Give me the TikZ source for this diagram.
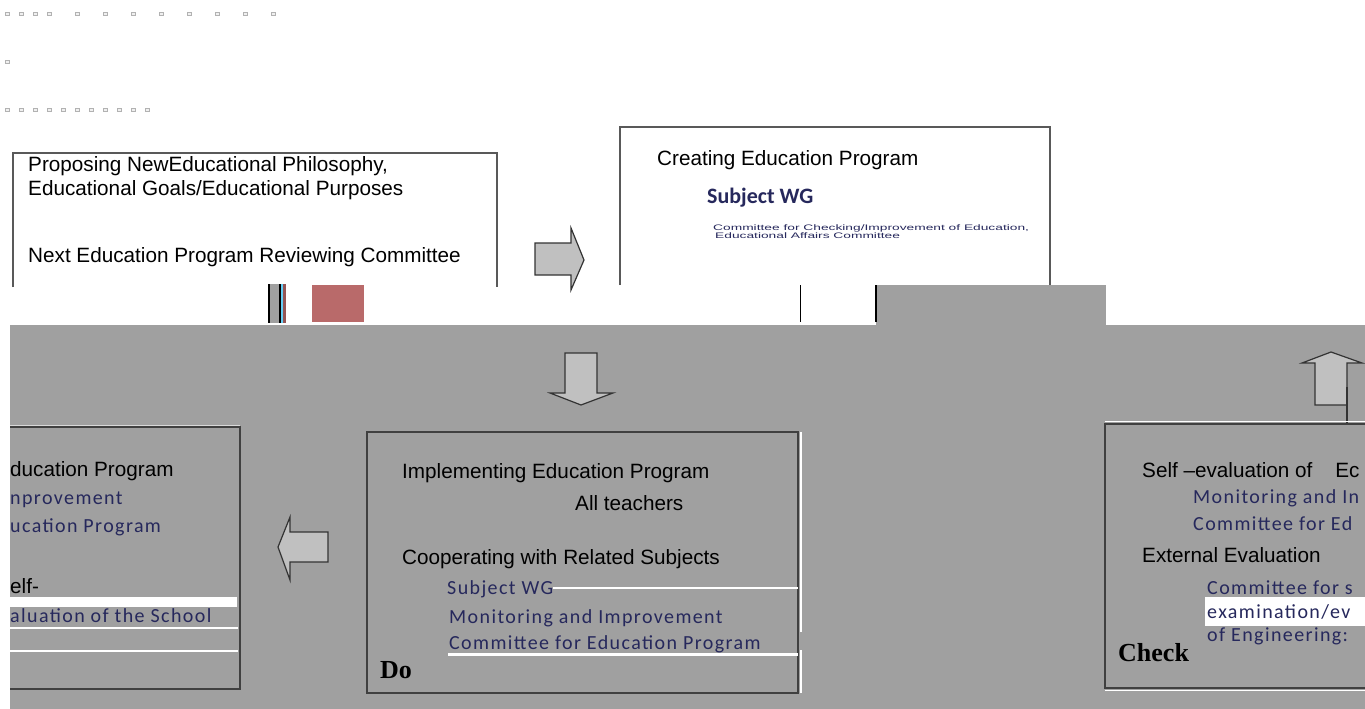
\documentclass[tikz,border=0pt]{standalone}
\usepackage{fontspec}
\setmainfont{Liberation Sans}
\newfontfamily\calfont[LetterSpace=7]{Carlito}
\newfontfamily\calbold{Carlito}
\newfontfamily\labfont{Liberation Serif}
\usepackage{graphicx}
\definecolor{bggray}{RGB}{160,160,160}
\definecolor{arrowgray}{RGB}{192,192,192}
\definecolor{wgtext}{RGB}{38,40,92}
\definecolor{salmon}{RGB}{185,106,106}
\tikzset{
  txt/.style={anchor=west,inner sep=0pt,font=\fontsize{20.7}{22}\selectfont},
  wgtxt/.style={anchor=west,inner sep=0pt,text=wgtext,font=\calfont\fontsize{20}{22}\selectfont},
  pdca/.style={anchor=west,inner sep=0pt,font=\labfont\bfseries\fontsize{26}{28}\selectfont},
  topbox/.style={draw=black!65,line width=1.5pt,fill=white},
  boxline/.style={draw=black!75,line width=1.2pt},
  blockarrow/.style={draw=black!80,line width=1.2pt,fill=arrowgray},
  tinysq/.style={draw=black!30,fill=black!6,line width=0.4pt}
}
\begin{document}
\begin{tikzpicture}[x=1pt,y=-1pt]
\useasboundingbox (0,0) rectangle (1365,709);
% tiny squares
\foreach \x in {5,19,33,47,75,103,131,159,187,215,243,271}
  \draw[tinysq] (\x,12) rectangle ++(4,3);
\draw[tinysq] (5,60) rectangle ++(4,3);
\foreach \x in {5,19,...,145}
  \draw[tinysq] (\x,108) rectangle ++(4,3);
%
% top boxes
\draw[topbox] (13,287) |- (497,153) -- (497,287);
\draw[topbox] (620,285) |- (1050,127) -- (1050,285);
\node[txt] (phil1) at (28,166) {Proposing NewEducational Philosophy,};
\node[txt] (phil2) at (28,190) {Educational Goals/Educational Purposes};
\node[txt] (review) at (28,257) {Next Education Program Reviewing Committee};
\node[txt] (create) at (657,160) {Creating Education Program};
\node[wgtxt,font=\calbold\bfseries\fontsize{22}{24}\selectfont] (wgtop) at (707,198) {Subject WG};
\node[anchor=west,inner sep=0pt,text=wgtext,font=\fontsize{8}{8}\selectfont] (chk1) at (713,228)
  {\scalebox{1.72}[1]{Committee for Checking/Improvement of Education,}};
\node[anchor=west,inner sep=0pt,text=wgtext,font=\fontsize{8}{8}\selectfont] (chk2) at (715,236)
  {\scalebox{1.72}[1]{Educational Affairs Committee}};
\draw[blockarrow] (535,243) -- (571,243) -- (571,228) -- (584,260) -- (571,290) -- (571,275) -- (535,275) -- cycle;
%
% strip
\fill[black] (268,284) rectangle (270,323);
\fill[bggray] (270,284) rectangle (279,323);
\fill[black] (279,284) rectangle (281,323);
\fill[cyan!60] (281,284) rectangle (283,323);
\fill[salmon!80!black] (283,284) rectangle (286,323);
\fill[salmon] (312,285) rectangle (364,322);
\draw[black,line width=1pt] (800,285) -- (800,322);
\fill[bggray] (876,285) rectangle (1106,327);
\draw[black,line width=1.5pt] (876,285) -- (876,322);
%
% gray area
\fill[bggray] (10,325) rectangle (1365,709);
\draw[blockarrow] (565,353) -- (597,353) -- (597,393) -- (613,393) -- (581,405) -- (550,393) -- (565,393) -- cycle;
\draw[blockarrow] (1315,405) -- (1315,363) -- (1302,363) -- (1331,352) -- (1362,363) -- (1347,363) -- (1347,405) -- cycle;
\draw[black!80,line width=1.2pt] (1347,387) -- (1347,424);
\draw[blockarrow] (328,532) -- (290,532) -- (290,517) -- (278,547) -- (290,580) -- (290,562) -- (328,562) -- cycle;
%
% left box
\draw[white!85!black,line width=1pt] (10,425) -- (240,425);
\draw[boxline] (10,427) -| (240,689) -- (10,689);
\fill[white] (10,597) rectangle (237,607);
\draw[white,line width=1.2pt] (10,628) -- (238,628);
\draw[white,line width=1.2pt] (10,651) -- (238,651);
\node[txt] (lp1) at (10,471) {ducation Program};
\node[wgtxt] (lp2) at (10,500) {nprovement};
\node[wgtxt] (lp3) at (10,527) {ucation Program};
\node[txt] (lp4) at (10,586) {elf-};
\node[wgtxt] (lp5) at (10,616) {aluation of the School};
%
% do box
\draw[boxline] (367,432) rectangle (798,693);
\draw[white,line width=1.2pt] (801,432) -- (801,632) (801,650) -- (801,693);
\draw[white,line width=1.5pt] (553,588) -- (798,588);
\draw[white,line width=3pt] (448,654) -- (798,654);
\node[txt] (impl) at (402,473) {Implementing Education Program};
\node[txt] (teachers) at (575,503) {All teachers};
\node[txt] (coop) at (402,559) {Cooperating with Related Subjects};
\node[wgtxt] (wgdo) at (447,589) {Subject WG};
\node[wgtxt] (mon) at (449,618) {Monitoring and Improvement};
\node[wgtxt] (com) at (449,644) {Committee for Education Program};
\node[pdca] (dolabel) at (380,670) {Do};
%
% check box
\draw[white,line width=1pt] (1105,421) -- (1365,421) (1105,690) -- (1365,690);
\draw[boxline] (1365,424) -- (1105,424) -- (1105,688) -- (1365,688);
\fill[white] (1205,597) rectangle (1365,626);
\node[txt] (self) at (1142,470) {Self –evaluation of\hspace{1.1em}Ec};
\node[wgtxt] (monc) at (1193,498) {Monitoring and In};
\node[wgtxt] (comc) at (1193,524) {Committee for Ed};
\node[txt] (ext) at (1142,555) {External Evaluation};
\node[wgtxt] (cfs) at (1207,588) {Committee for s};
\node[wgtxt] (exam) at (1207,612) {examination/ev};
\node[wgtxt] (eng) at (1207,636) {of Engineering:};
\node[pdca] (checklabel) at (1118,653) {Check};
\end{tikzpicture}
\end{document}
